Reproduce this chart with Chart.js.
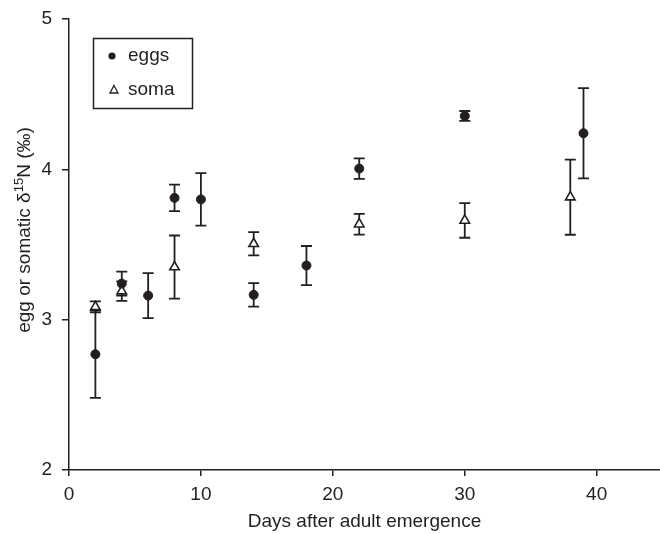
<!DOCTYPE html>
<html>
<head>
<meta charset="utf-8">
<script src="https://cdn.jsdelivr.net/npm/chart.js@4"></script>
<style>
  html, body { margin: 0; padding: 0; background: #fff; }
  #wrap { width: 660px; height: 534px; }
</style>
</head>
<body>
<div id="wrap"><canvas id="chart" width="660" height="534"></canvas></div>
<script>
// datos
const eggDays = [2, 4, 6, 8, 10, 14, 18, 22, 30, 39];
const eggMean = [2.77, 3.24, 3.16, 3.81, 3.80, 3.165, 3.36, 4.005, 4.355, 4.24];
const eggErr = [0.29, 0.08, 0.15, 0.088, 0.175, 0.078, 0.13, 0.068, 0.033, 0.30];

const somaDays = [2, 4, 8, 14, 22, 30, 38];
const somaMean = [3.085, 3.19, 3.35, 3.505, 3.635, 3.66, 3.815];
const somaErr = [0.037, 0.065, 0.21, 0.077, 0.069, 0.115, 0.25];

const xTicks = [0, 10, 20, 30, 40];
const yTicks = [2, 3, 4, 5];

const INK = "#231f20";
const FONT = "Liberation Sans, Arial, Helvetica, sans-serif";

function toPoints(days, mean, err) {
  return days.map((d, i) => ({ x: d, y: mean[i], err: err[i] }));
}

// barras de error (debajo de los marcadores)
const errorBars = {
  id: "errorBars",
  beforeDatasetsDraw(chart) {
    const { ctx, scales } = chart;
    ctx.save();
    ctx.strokeStyle = INK;
    ctx.lineWidth = 1.8;
    chart.data.datasets.forEach((ds) => {
      ds.data.forEach((p) => {
        const px = scales.x.getPixelForValue(p.x);
        const top = scales.y.getPixelForValue(p.y + p.err);
        const bot = scales.y.getPixelForValue(p.y - p.err);
        ctx.beginPath();
        ctx.moveTo(px, top);
        ctx.lineTo(px, bot);
        ctx.moveTo(px - 5.5, top);
        ctx.lineTo(px + 5.5, top);
        ctx.moveTo(px - 5.5, bot);
        ctx.lineTo(px + 5.5, bot);
        ctx.stroke();
      });
    });
    ctx.restore();
  },
};

// leyenda con recuadro dentro del área del gráfico
const boxLegend = {
  id: "boxLegend",
  afterDraw(chart) {
    const ctx = chart.ctx;
    ctx.save();
    ctx.strokeStyle = INK;
    ctx.lineWidth = 1.5;
    ctx.strokeRect(93.5, 38.5, 99, 70);
    ctx.font = "19px " + FONT;
    ctx.fillStyle = INK;
    ctx.textBaseline = "middle";
    const rows = [56, 90];
    chart.data.datasets.forEach((ds, i) => {
      const y = rows[i];
      ctx.beginPath();
      if (ds.pointStyle === "triangle") {
        ctx.moveTo(114, y - 4.5);
        ctx.lineTo(118, y + 3);
        ctx.lineTo(110, y + 3);
        ctx.closePath();
        ctx.lineWidth = 1.3;
        ctx.stroke();
      } else {
        ctx.arc(112, y, 3.6, 0, Math.PI * 2);
        ctx.fill();
      }
      ctx.fillText(ds.label, 128, y);
    });
    ctx.restore();
  },
};

// título del eje Y con superíndice
const yTitle = {
  id: "yTitle",
  afterDraw(chart) {
    const ctx = chart.ctx;
    const parts = [
      { t: "egg or somatic \u03b4", size: 19, dy: 0 },
      { t: "15", size: 13, dy: -7 },
      { t: "N (\u2030)", size: 19, dy: 0 },
    ];
    ctx.save();
    ctx.fillStyle = INK;
    ctx.textBaseline = "alphabetic";
    let total = 0;
    parts.forEach((p) => {
      ctx.font = p.size + "px " + FONT;
      total += ctx.measureText(p.t).width;
    });
    ctx.translate(30, 230);
    ctx.rotate(-Math.PI / 2);
    let x = -total / 2;
    parts.forEach((p) => {
      ctx.font = p.size + "px " + FONT;
      ctx.fillText(p.t, x, p.dy);
      x += ctx.measureText(p.t).width;
    });
    ctx.restore();
  },
};

new Chart(document.getElementById("chart"), {
  type: "scatter",
  data: {
    datasets: [
      {
        label: "eggs",
        data: toPoints(eggDays, eggMean, eggErr),
        pointStyle: "circle",
        pointRadius: 4.5,
        pointBackgroundColor: INK,
        pointBorderColor: INK,
        pointBorderWidth: 1,
      },
      {
        label: "soma",
        data: toPoints(somaDays, somaMean, somaErr),
        pointStyle: "triangle",
        pointRadius: 5.5,
        pointBackgroundColor: "#fff",
        pointBorderColor: INK,
        pointBorderWidth: 1.6,
      },
    ],
  },
  options: {
    responsive: false,
    animation: false,
    layout: { autoPadding: false, padding: { top: 19, right: 0, left: 0, bottom: 0 } },
    plugins: {
      legend: { display: false },
      tooltip: { enabled: false },
    },
    scales: {
      x: {
        type: "linear",
        min: 0,
        max: 44.8,
        afterBuildTicks: (s) => { s.ticks = xTicks.map((v) => ({ value: v })); },
        afterFit: (s) => {
          s.height = 64;
          s.paddingLeft = 0;
          s.paddingRight = 0;
        },
        grid: { drawOnChartArea: false, drawTicks: true, tickLength: 6, color: INK, lineWidth: 1.5 },
        border: { color: INK, width: 1.5 },
        ticks: { color: INK, font: { family: FONT, size: 19 }, padding: 7, maxRotation: 0 },
        title: {
          display: true,
          text: "Days after adult emergence",
          color: INK,
          font: { family: FONT, size: 19 },
          padding: { top: 0, bottom: 1 },
        },
      },
      y: {
        type: "linear",
        min: 2,
        max: 5,
        afterBuildTicks: (s) => { s.ticks = yTicks.map((v) => ({ value: v })); },
        afterFit: (s) => {
          s.width = 69;
          s.paddingTop = 0;
          s.paddingBottom = 0;
        },
        grid: { drawOnChartArea: false, drawTicks: true, tickLength: 7, color: INK, lineWidth: 1.5 },
        border: { color: INK, width: 1.5 },
        ticks: { color: INK, font: { family: FONT, size: 19 }, padding: 10 },
      },
    },
  },
  plugins: [errorBars, boxLegend, yTitle],
});
</script>
</body>
</html>
